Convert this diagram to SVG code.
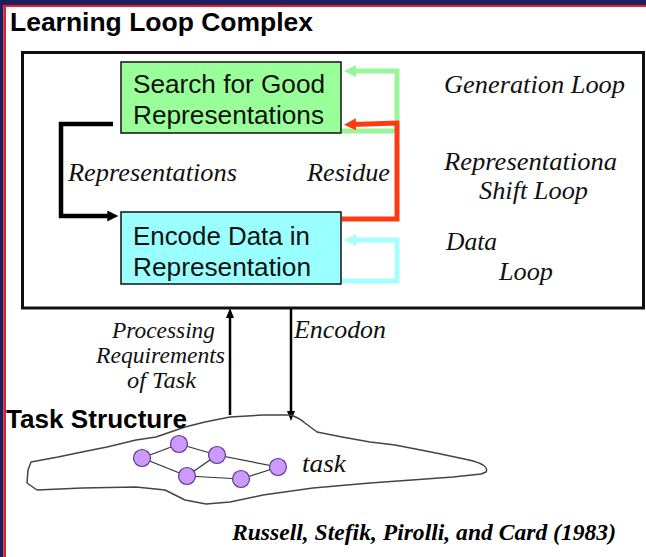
<svg xmlns="http://www.w3.org/2000/svg" width="646" height="557" viewBox="0 0 646 557">
<style>
.bold{font-family:"Liberation Sans",Arial,sans-serif;font-weight:bold;fill:#000}
.sans{font-family:"Liberation Sans",Arial,sans-serif;fill:#111}
.it{font-family:"Liberation Serif","Times New Roman",serif;font-style:italic;fill:#111}
.cite{font-family:"Liberation Serif","Times New Roman",serif;font-style:italic;font-weight:bold;fill:#000}
.box{stroke:#111;stroke-width:1.5}
.loop{fill:none;stroke-width:5;stroke-linejoin:miter}
.edge{stroke:#333;stroke-width:1.2}
.gn{fill:#cc99ff;stroke:#5a3a8a;stroke-width:1.2}
</style>
<defs>
<marker id="ahK" viewBox="0 0 12 12" refX="4" refY="6" markerWidth="12" markerHeight="11" markerUnits="userSpaceOnUse" orient="auto"><path d="M0,0 L12,6 L0,12 z" fill="#000"/></marker>
<marker id="ahG" viewBox="0 0 12 12" refX="4" refY="6" markerWidth="12" markerHeight="12" markerUnits="userSpaceOnUse" orient="auto"><path d="M0,0 L12,6 L0,12 z" fill="#99f599"/></marker>
<marker id="ahR" viewBox="0 0 12 12" refX="4" refY="6" markerWidth="12" markerHeight="12" markerUnits="userSpaceOnUse" orient="auto"><path d="M0,0 L12,6 L0,12 z" fill="#ff3a10"/></marker>
<marker id="ahC" viewBox="0 0 12 12" refX="4" refY="6" markerWidth="12" markerHeight="12" markerUnits="userSpaceOnUse" orient="auto"><path d="M0,0 L12,6 L0,12 z" fill="#a6ffff"/></marker>
<marker id="ahS" viewBox="0 0 10 8" refX="3" refY="4" markerWidth="10" markerHeight="8" markerUnits="userSpaceOnUse" orient="auto"><path d="M0,0 L10,4 L0,8 z" fill="#000"/></marker>
</defs>
<rect x="0" y="0" width="646" height="557" fill="#fff"/>
<g id="frame">
<rect x="0" y="0" width="646" height="5" fill="#1c2060"/>
<rect x="0" y="0" width="3.5" height="557" fill="#1c2060"/>
<rect x="3.5" y="5" width="642.5" height="2" fill="#e8202a"/>
<rect x="3.5" y="5" width="2.5" height="552" fill="#e8202a"/>
</g>
<g id="title"><text class="bold" x="10" y="31" font-size="26" textLength="303" lengthAdjust="spacingAndGlyphs">Learning Loop Complex</text></g>
<g id="complex"><rect x="22.5" y="52.5" width="621" height="255.5" fill="none" stroke="#111" stroke-width="3"/></g>
<g id="search">
<rect class="box" x="121" y="62" width="220" height="71" fill="#99ff99"/>
<text class="sans" x="133" y="93" font-size="26" textLength="192" lengthAdjust="spacingAndGlyphs">Search for Good</text>
<text class="sans" x="133" y="124" font-size="26" textLength="191" lengthAdjust="spacingAndGlyphs">Representations</text>
</g>
<g id="encode">
<rect class="box" x="121" y="212" width="220" height="72" fill="#99ffff"/>
<text class="sans" x="133" y="245" font-size="26" textLength="177" lengthAdjust="spacingAndGlyphs">Encode Data in</text>
<text class="sans" x="133" y="276" font-size="26" textLength="178" lengthAdjust="spacingAndGlyphs">Representation</text>
</g>
<g id="connectors">
<path d="M113,124 H61 V216 H111" fill="none" stroke="#000" stroke-width="4.5" marker-end="url(#ahK)"/>
<path class="loop" d="M342,131 H397 V71 H352" stroke="#99f599" marker-end="url(#ahG)"/>
<path class="loop" d="M342,219 H397 V123 L352,124.5" stroke="#ff3a10" marker-end="url(#ahR)"/>
<path class="loop" d="M342,281 H397 V240 H352" stroke="#a6ffff" marker-end="url(#ahC)"/>
<path d="M230,415 V315" fill="none" stroke="#000" stroke-width="2.5" marker-end="url(#ahS)"/>
<path d="M291,309 V414" fill="none" stroke="#000" stroke-width="2.5" marker-end="url(#ahS)"/>
</g>
<g id="labels">
<text class="it" x="68" y="181" font-size="26" textLength="169" lengthAdjust="spacingAndGlyphs">Representations</text>
<text class="it" x="307" y="181" font-size="26" textLength="83" lengthAdjust="spacingAndGlyphs">Residue</text>
<text class="it" x="444" y="93" font-size="26" textLength="181" lengthAdjust="spacingAndGlyphs">Generation Loop</text>
<text class="it" x="444" y="170" font-size="26" textLength="173" lengthAdjust="spacingAndGlyphs">Representationa</text>
<text class="it" x="479" y="199" font-size="26" textLength="109" lengthAdjust="spacingAndGlyphs">Shift Loop</text>
<text class="it" x="446" y="250" font-size="26" textLength="51" lengthAdjust="spacingAndGlyphs">Data</text>
<text class="it" x="499" y="280" font-size="26" textLength="54" lengthAdjust="spacingAndGlyphs">Loop</text>
<text class="it" x="112" y="338" font-size="23" textLength="103" lengthAdjust="spacingAndGlyphs">Processing</text>
<text class="it" x="96" y="363" font-size="23" textLength="129" lengthAdjust="spacingAndGlyphs">Requirements</text>
<text class="it" x="127" y="388" font-size="23" textLength="69" lengthAdjust="spacingAndGlyphs">of Task</text>
<text class="it" x="294" y="338" font-size="25" textLength="92" lengthAdjust="spacingAndGlyphs">Encodon</text>
</g>
<g id="task-structure">
<path d="M31,462 L58,457 L82,452 L107,447 L136,440 L156,437 L185,427 L205,422 L230,417 L263,415 L290,415 Q298,417 305,423 L317,432 L342,437 L370,442 L395,445 L436,453 L469,460 Q490,465 486,472 L481,474 L453,477 L412,480 L370,483 L313,488 L263,495 L230,502 L206,504 L185,500 L165,490 L136,487 L82,488 L37,490 L27,483 L28,470 Z" fill="none" stroke="#444" stroke-width="1.5" stroke-linejoin="round"/>
<text class="bold" x="6" y="428" font-size="25" textLength="181" lengthAdjust="spacingAndGlyphs">Task Structure</text>
<text class="it" x="302" y="472" font-size="26" textLength="44" lengthAdjust="spacingAndGlyphs">task</text>
</g>
<g id="task-graph">
<line class="edge" x1="142" y1="458" x2="179" y2="444"/>
<line class="edge" x1="179" y1="444" x2="217" y2="455"/>
<line class="edge" x1="142" y1="458" x2="187" y2="476"/>
<line class="edge" x1="187" y1="476" x2="217" y2="455"/>
<line class="edge" x1="217" y1="455" x2="278" y2="467"/>
<line class="edge" x1="187" y1="476" x2="241" y2="479"/>
<line class="edge" x1="241" y1="479" x2="278" y2="467"/>
<circle class="gn" cx="142" cy="458" r="8.5"/>
<circle class="gn" cx="179" cy="444" r="8.5"/>
<circle class="gn" cx="217" cy="455" r="8.5"/>
<circle class="gn" cx="187" cy="476" r="8.5"/>
<circle class="gn" cx="241" cy="479" r="8.5"/>
<circle class="gn" cx="278" cy="467" r="8.5"/>
</g>
<g id="citation"><text class="cite" x="232" y="540" font-size="24" textLength="384" lengthAdjust="spacingAndGlyphs">Russell, Stefik, Pirolli, and Card (1983)</text></g>
</svg>
